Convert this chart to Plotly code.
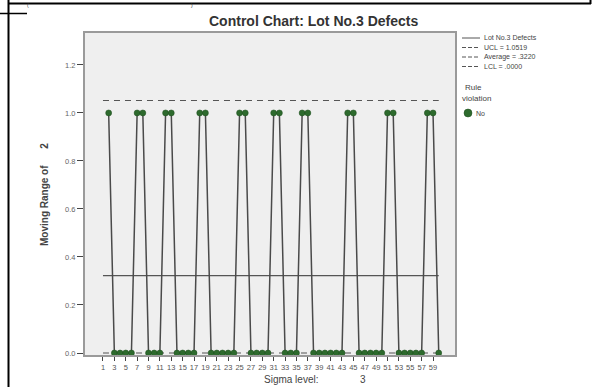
import plotly.graph_objects as go

# ---- data ----
samples = list(range(1, 61))
moving_range = [None, 1, 0, 0, 0, 0, 1, 1, 0, 0,
                0, 1, 1, 0, 0, 0, 0, 1, 1, 0,
                0, 0, 0, 0, 1, 1, 0, 0, 0, 0,
                1, 1, 0, 0, 0, 1, 1, 0, 0, 0,
                0, 0, 0, 1, 1, 0, 0, 0, 0, 0,
                1, 1, 0, 0, 0, 0, 0, 1, 1, 0]
ucl = 1.0519
average = 0.3220
lcl = 0.0
x_tickvals = [1, 3, 5, 7, 9, 11, 13, 15, 17, 19, 21, 23, 25, 27, 29,
              31, 33, 35, 37, 39, 41, 43, 45, 47, 49, 51, 53, 55, 57, 59]
y_tickvals = [0.0, 0.2, 0.4, 0.6, 0.8, 1.0, 1.2]
y_ticktext = ["0.0", "0.2", "0.4", "0.6", "0.8", "1.0", "1.2"]

W, H = 596, 387
L, R, T, B = 85, 141, 33, 32
PW, PH = W - L - R, H - T - B


def px(x):
    return (x - L) / PW


def py(y):
    return (H - B - y) / PH


FONT = "Liberation Sans, Arial, sans-serif"
LINE_C = "#4a4a4a"
MARK_C = "#2d6a2d"
TXT_C = "#505050"

fig = go.Figure()

# control lines
fig.add_trace(go.Scatter(x=[samples[0], samples[-1]], y=[ucl, ucl], mode="lines",
                         line=dict(color="#555555", width=1.2, dash="6px,5px"),
                         hoverinfo="skip"))
fig.add_trace(go.Scatter(x=[samples[0], samples[-1]], y=[average, average], mode="lines",
                         line=dict(color="#555555", width=1.2),
                         hoverinfo="skip"))
fig.add_trace(go.Scatter(x=[samples[0], samples[-1]], y=[lcl, lcl], mode="lines",
                         line=dict(color="#555555", width=1.2, dash="6px,5px"),
                         hoverinfo="skip"))

# series
fig.add_trace(go.Scatter(x=samples, y=moving_range, mode="lines+markers",
                         line=dict(color=LINE_C, width=1.5),
                         marker=dict(color=MARK_C, size=6,
                                     line=dict(color="#1d4d1d", width=0.5)),
                         cliponaxis=False, connectgaps=False))

fig.update_layout(
    width=W, height=H,
    margin=dict(l=L, r=R, t=T, b=B),
    paper_bgcolor="white",
    plot_bgcolor="#efefef",
    showlegend=False,
    font=dict(family=FONT, color=TXT_C),
    xaxis=dict(range=[-2.16, 62.86], tickmode="array", tickvals=x_tickvals,
               ticks="outside", ticklen=4, tickcolor="#444444",
               tickfont=dict(size=7.5, color="#555555"),
               showgrid=False, zeroline=False,
               showline=True, mirror=True, linecolor="#9a9a9a", linewidth=2),
    yaxis=dict(range=[-0.0083, 1.333], tickmode="array", tickvals=y_tickvals,
               ticktext=y_ticktext, ticks="outside", ticklen=6, tickcolor="#444444",
               tickfont=dict(size=7.5, color="#666666"),
               showgrid=False, zeroline=False,
               showline=True, mirror=True, linecolor="#9a9a9a", linewidth=2),
)

ann = []
# title
ann.append(dict(text="<b>Control Chart: Lot No.3 Defects</b>", x=px(313), y=py(21),
                xref="paper", yref="paper", showarrow=False,
                font=dict(size=14, color="#333333", family=FONT),
                xanchor="center", yanchor="middle"))
# y axis title
ann.append(dict(text="<b>Moving Range of      2</b>", x=px(45), y=py(195),
                xref="paper", yref="paper", showarrow=False, textangle=-90,
                font=dict(size=10, color="#444444", family=FONT),
                xanchor="center", yanchor="middle"))
# x axis title
ann.append(dict(text="Sigma level:", x=px(291), y=py(379),
                xref="paper", yref="paper", showarrow=False,
                font=dict(size=10, color="#444444", family=FONT),
                xanchor="center", yanchor="middle"))
ann.append(dict(text="3", x=px(363), y=py(379),
                xref="paper", yref="paper", showarrow=False,
                font=dict(size=10, color="#444444", family=FONT),
                xanchor="center", yanchor="middle"))

# legend
leg_rows = [("Lot No.3 Defects", 38, "solid"),
            ("UCL = 1.0519", 47.5, "dot"),
            ("Average = .3220", 57, "dot"),
            ("LCL = .0000", 66.5, "dot")]
shapes = []
for label, yy, dash in leg_rows:
    ann.append(dict(text=label, x=px(482), y=py(yy), xref="paper", yref="paper",
                    showarrow=False, font=dict(size=7, color="#444444", family=FONT),
                    xanchor="left", yanchor="middle"))
    shapes.append(dict(type="line", xref="paper", yref="paper",
                       x0=px(462), x1=px(480), y0=py(yy), y1=py(yy),
                       line=dict(color="#555555", width=1,
                                 dash="solid" if dash == "solid" else "4px,2px")))
ann.append(dict(text="Rule", x=px(474), y=py(87), xref="paper", yref="paper",
                showarrow=False, font=dict(size=8, color="#444444", family=FONT),
                xanchor="center", yanchor="middle"))
ann.append(dict(text="violation", x=px(476), y=py(98), xref="paper", yref="paper",
                showarrow=False, font=dict(size=8, color="#444444", family=FONT),
                xanchor="center", yanchor="middle"))
ann.append(dict(text="No", x=px(474), y=py(113), xref="paper", yref="paper",
                showarrow=False, font=dict(size=7, color="#444444", family=FONT),
                xanchor="left", yanchor="middle"))
shapes.append(dict(type="circle", xref="paper", yref="paper",
                   x0=px(464), x1=px(472), y0=py(117), y1=py(109),
                   fillcolor=MARK_C, line=dict(color="#1d4d1d", width=0.5)))

# small text fragments at the top of the cell
ann.append(dict(text="(", x=px(28), y=py(0), xref="paper", yref="paper",
                showarrow=False, font=dict(size=5, color="#333333", family=FONT),
                xanchor="center", yanchor="top"))
ann.append(dict(text=")", x=px(192), y=py(0), xref="paper", yref="paper",
                showarrow=False, font=dict(size=5, color="#333333", family=FONT),
                xanchor="center", yanchor="top"))

# table cell borders
shapes.append(dict(type="line", xref="paper", yref="paper",
                   x0=px(8.5), x1=px(8.5), y0=py(0), y1=py(H),
                   line=dict(color="black", width=2)))
shapes.append(dict(type="line", xref="paper", yref="paper",
                   x0=px(8), x1=px(591), y0=py(3.5), y1=py(3.5),
                   line=dict(color="black", width=2)))
shapes.append(dict(type="line", xref="paper", yref="paper",
                   x0=px(0), x1=px(27), y0=py(13.5), y1=py(13.5),
                   line=dict(color="black", width=1.5)))
shapes.append(dict(type="line", xref="paper", yref="paper",
                   x0=px(590.5), x1=px(590.5), y0=py(0), y1=py(4),
                   line=dict(color="black", width=2)))

fig.update_layout(annotations=ann, shapes=shapes)

fig.write_html("out.html")
